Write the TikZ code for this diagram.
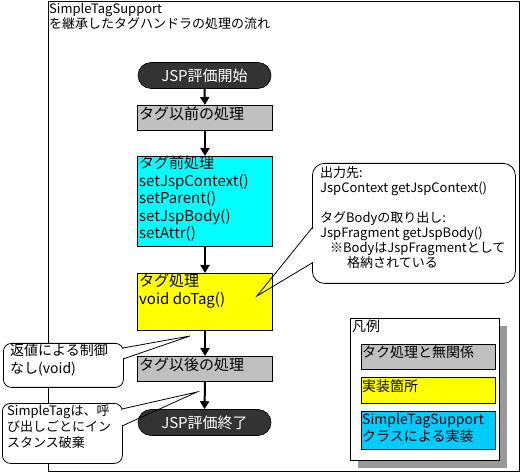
\documentclass[tikz,border=0pt]{standalone}
\usepackage{fontspec}
\setmainfont{Noto Sans CJK JP}
\usetikzlibrary{arrows.meta}
\definecolor{boxgray}{HTML}{C0C0C0}
\definecolor{boxcyan}{HTML}{00FFFF}
\definecolor{boxyellow}{HTML}{FFFF00}
\definecolor{legcyan}{HTML}{00CCFF}
\definecolor{termdark}{HTML}{333333}
\begin{document}
\begin{tikzpicture}[x=1pt,y=-1pt,
 box/.style={draw=black,line width=1pt,anchor=north west,inner sep=0pt,minimum width=135pt},
 boxtxt/.style={anchor=north west,inner sep=0pt,align=left,font=\fontsize{15}{17.5}\selectfont},
 term/.style={draw=black,line width=0.6pt,fill=termdark,text=white,rounded corners=13pt,minimum width=133pt,minimum height=26pt,inner sep=0pt,font=\fontsize{15}{18}\selectfont},
 arr/.style={line width=2pt,-{Triangle[length=8pt,width=9pt]}},
 cbody/.style={draw=black,line width=0.8pt,fill=white,rounded corners=8pt,anchor=north west,inner sep=0pt},
 ctxt/.style={anchor=north west,inner sep=0pt,align=left},
 wedge/.style={line width=0.8pt},
 legbox/.style={draw=black,line width=1pt,anchor=north west,inner sep=0pt,minimum width=134pt},
 legtxt/.style={anchor=north west,inner sep=0pt,align=left,font=\fontsize{14}{17}\selectfont}
]
\useasboundingbox (0,0) rectangle (520,473);
\fill[white] (0,0) rectangle (520,473);
% outer frame
\node[draw,line width=1.5pt,anchor=north west,minimum width=471pt,minimum height=470pt,inner sep=0pt] (frame) at (47.5,0.75) {};
\node[ctxt,font=\fontsize{13}{15}\selectfont] (title) at (49,3) {SimpleTagSupport\\を継承したタグハンドラの処理の流れ};

% flow
\node[term] (start) at (204.5,75.5) {JSP評価開始};
\node[box,fill=boxgray,minimum height=25pt] (pre) at (137,105) {};
\node[boxtxt] (pretxt) at (139,107) {タグ以前の処理};
\node[box,fill=boxcyan,minimum height=90pt] (setup) at (137,156) {};
\node[boxtxt] (setuptxt) at (139,156) {タグ前処理\\setJspContext()\\setParent()\\setJspBody()\\setAttr()};
\node[box,fill=boxyellow,minimum height=57pt] (dotag) at (137,273) {};
\node[boxtxt] (dotagtxt) at (139,274) {タグ処理\\void doTag()};
\node[box,fill=boxgray,minimum height=25pt] (post) at (137,356) {};
\node[boxtxt] (posttxt) at (139,358) {タグ以後の処理};
\node[term] (end) at (204.5,422.5) {JSP評価終了};

\draw[arr] (start.south) -- (pre.north);
\draw[arr] (pre.south) -- (setup.north);
\draw[arr] (setup.south) -- (dotag.north);
\draw[arr] (dotag.south) -- (post.north);
\draw[arr] (post.south) -- (end.north);

% big callout
\node[cbody,rounded corners=12pt,minimum width=203pt,minimum height=120pt] (cbig) at (312,163) {};
\node[ctxt,font=\fontsize{13}{15}\selectfont] (cbigtxt) at (320,166) {出力先:\\JspContext getJspContext()\\[15pt]タグBodyの取り出し:\\JspFragment getJspBody()\\\hspace{10pt}※BodyはJspFragmentとして\\\hspace{27pt}格納されている};
\coordinate (tipbig) at (257,296);
\fill[white] (311,229) rectangle (313.5,262);
\draw[wedge] (312,228) -- (tipbig) -- (312,263);

% callout 1
\node[cbody,minimum width=120pt,minimum height=44pt] (cret) at (3,343) {};
\node[ctxt,font=\fontsize{14}{18}\selectfont] (crettxt) at (10,344) {返値による制御\\なし(void)};
\coordinate (tipret) at (190,336);
\fill[white] (121.5,348.8) rectangle (124,358.2);
\draw[wedge] (123,348) -- (tipret) -- (123,359);

% callout 2
\node[cbody,minimum width=120pt,minimum height=60pt] (cinst) at (2,403) {};
\node[ctxt,font=\fontsize{13}{16}\selectfont] (cinsttxt) at (7,405) {SimpleTagは、呼\\び出しごとにイン\\スタンス破棄};
\coordinate (tipinst) at (197,392);
\fill[white] (120.5,409.8) rectangle (123,425.2);
\draw[wedge] (122,409) -- (tipinst) -- (122,426);

% legend
\fill[black!40] (358,326) rectangle (507,468);
\node[draw=black,line width=1pt,fill=white,anchor=north west,inner sep=0pt,minimum width=149pt,minimum height=142pt] (legend) at (350,318) {};
\node[ctxt,font=\fontsize{14}{17}\selectfont] (legtitle) at (352,320) {凡例};
\node[legbox,fill=boxgray,minimum height=25pt] (leggray) at (361,344) {};
\node[legtxt] (leggraytxt) at (362,346) {タク処理と無関係};
\node[legbox,fill=boxyellow,minimum height=26pt] (legyellow) at (361,377) {};
\node[legtxt] (legyellowtxt) at (362,379) {実装箇所};
\node[legbox,fill=legcyan,minimum height=38pt] (legcyan) at (361,411) {};
\node[legtxt] (legcyantxt) at (362,413) {SimpleTagSupport\\クラスによる実装};
\end{tikzpicture}
\end{document}
